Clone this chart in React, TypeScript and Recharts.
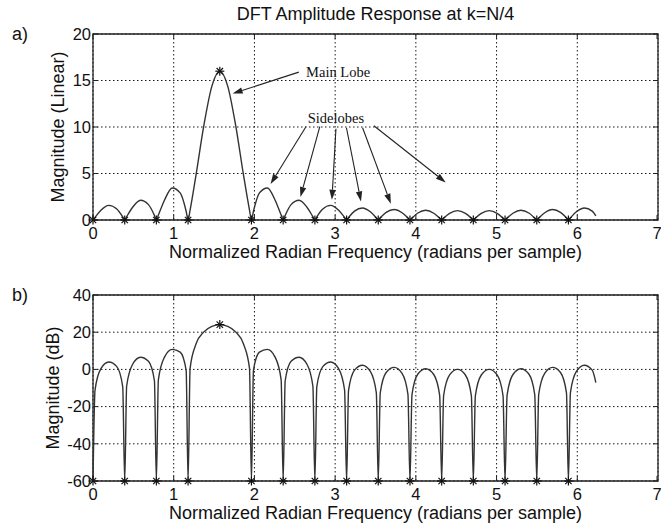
import React from 'react';
import {
  LineChart,
  Line,
  XAxis,
  YAxis,
  CartesianGrid,
  ReferenceArea,
  ReferenceLine,
  ReferenceDot,
  Label
} from 'recharts';

// frequency samples of the plotted curve (radians per sample)
const freq = [
  0.0, 0.025, 0.098, 0.196, 0.295, 0.368,
  0.393, 0.417, 0.491, 0.589, 0.687, 0.761,
  0.785, 0.81, 0.884, 0.982, 1.08, 1.154,
  1.178, 1.203, 1.276, 1.374, 1.473, 1.571, 1.669, 1.767, 1.865, 1.939,
  1.963, 1.988, 2.062, 2.16, 2.258, 2.331,
  2.356, 2.381, 2.454, 2.553, 2.651, 2.724,
  2.749, 2.773, 2.847, 2.945, 3.043, 3.117,
  3.142, 3.166, 3.24, 3.338, 3.436, 3.51,
  3.534, 3.559, 3.632, 3.731, 3.829, 3.902,
  3.927, 3.952, 4.025, 4.123, 4.222, 4.295,
  4.32, 4.344, 4.418, 4.516, 4.614, 4.688,
  4.712, 4.737, 4.811, 4.909, 5.007, 5.08,
  5.105, 5.13, 5.203, 5.301, 5.4, 5.473,
  5.498, 5.522, 5.596, 5.694, 5.792, 5.866,
  5.89, 5.915, 5.989, 6.087, 6.185, 6.23
];

const magLinear = [
  0, 0.279, 1.053, 1.576, 1.187, 0.345,
  0, 0.358, 1.375, 2.121, 1.654, 0.495,
  0, 0.526, 2.099, 3.445, 2.91, 0.942,
  0, 1.066, 4.82, 10.2, 14.4, 16, 14.4, 10.2, 4.82, 1.066,
  0, 0.942, 2.91, 3.445, 2.099, 0.526,
  0, 0.495, 1.654, 2.121, 1.375, 0.358,
  0, 0.345, 1.187, 1.576, 1.053, 0.279,
  0, 0.273, 0.954, 1.294, 0.88, 0.237,
  0, 0.233, 0.824, 1.134, 0.782, 0.212,
  0, 0.21, 0.751, 1.045, 0.729, 0.2,
  0, 0.199, 0.715, 1.005, 0.708, 0.195,
  0, 0.195, 0.708, 1.005, 0.715, 0.199,
  0, 0.2, 0.729, 1.045, 0.751, 0.21,
  0, 0.212, 0.782, 1.134, 0.824, 0.233,
  0, 0.237, 0.88, 1.294, 0.954, 0.44
];

const magDb = [
  -60, -11.1, 0.45, 3.95, 1.49, -9.25,
  -60, -8.93, 2.77, 6.53, 4.37, -6.1,
  -60, -5.59, 6.44, 10.74, 9.28, -0.52,
  -60, 0.56, 13.66, 20.17, 23.17, 24.08, 23.17, 20.17, 13.66, 0.56,
  -60, -0.52, 9.28, 10.74, 6.44, -5.59,
  -60, -6.1, 4.37, 6.53, 2.77, -8.93,
  -60, -9.25, 1.49, 3.95, 0.45, -11.08,
  -60, -11.29, -0.41, 2.24, -1.11, -12.52,
  -60, -12.66, -1.68, 1.09, -2.14, -13.46,
  -60, -13.55, -2.49, 0.38, -2.75, -14.0,
  -60, -14.05, -2.91, 0.04, -3.0, -14.19,
  -60, -14.19, -3.0, 0.04, -2.91, -14.05,
  -60, -14.0, -2.75, 0.38, -2.49, -13.55,
  -60, -13.46, -2.14, 1.09, -1.68, -12.66,
  -60, -12.52, -1.11, 2.24, -0.41, -7.1
];

// the 16 DFT bins (marked with asterisks)
const dftFreq = [
  0, 0.393, 0.785, 1.178, 1.571, 1.963, 2.356, 2.749,
  3.142, 3.534, 3.927, 4.32, 4.712, 5.105, 5.498, 5.89
];
const dftLinear = [0, 0, 0, 0, 16, 0, 0, 0, 0, 0, 0, 0, 0, 0, 0, 0];
const dftDb = [-60, -60, -60, -60, 24.08, -60, -60, -60, -60, -60, -60, -60, -60, -60, -60, -60];

const freqTicks = [0, 1, 2, 3, 4, 5, 6, 7];
const linearTicks = [0, 5, 10, 15, 20];
const dbTicks = [-60, -40, -20, 0, 20, 40];

const TITLE = 'DFT Amplitude Response at k=N/4';
const X_LABEL = 'Normalized Radian Frequency (radians per sample)';

const SANS = '"Liberation Sans", Arial, Helvetica, sans-serif';
const SERIF = '"Liberation Serif", "Times New Roman", serif';
const INK = '#111';

const CHART_W = 661;
const CHART_H = 269;
const MARGIN = { top: 34, right: 3, bottom: 19, left: 33 };
const X_AXIS_H = 30;
const Y_AXIS_W = 60;
const PLOT_W = CHART_W - MARGIN.left - MARGIN.right - Y_AXIS_W;
const PLOT_H = CHART_H - MARGIN.top - MARGIN.bottom - X_AXIS_H;
const TICK_IN = 5;

function Star(props: any) {
  const { cx, cy, key } = props;
  if (cx == null || cy == null) return null;
  const r = 4.5;
  const d = 3.2;
  return (
    <g key={key} stroke={INK} strokeWidth={1.2}>
      <line x1={cx - r} y1={cy} x2={cx + r} y2={cy} />
      <line x1={cx} y1={cy - r} x2={cx} y2={cy + r} />
      <line x1={cx - d} y1={cy - d} x2={cx + d} y2={cy + d} />
      <line x1={cx - d} y1={cy + d} x2={cx + d} y2={cy - d} />
    </g>
  );
}

function Arrow(props: any) {
  const { x1, y1, x2, y2 } = props;
  const a = Math.atan2(y2 - y1, x2 - x1);
  const len = 10;
  const half = 3.2;
  const bx = x2 - len * Math.cos(a);
  const by = y2 - len * Math.sin(a);
  const pts = [
    `${x2},${y2}`,
    `${bx - half * Math.sin(a)},${by + half * Math.cos(a)}`,
    `${bx + half * Math.sin(a)},${by - half * Math.cos(a)}`
  ].join(' ');
  return (
    <g>
      <line x1={x1} y1={y1} x2={bx} y2={by} stroke="#222" strokeWidth={1.1} />
      <polygon points={pts} fill="#222" />
    </g>
  );
}

function note(text: string) {
  return (p: any) => (
    <text
      x={p.cx}
      y={p.cy}
      dominantBaseline="central"
      fontFamily={SERIF}
      fontSize={14.5}
      fill={INK}
    >
      {text}
    </text>
  );
}

// tick label plus matlab-style inward tick marks on both opposite edges
function XTick(props: any) {
  const { x, y, payload } = props;
  const axisY = y - 7;
  const topY = axisY - PLOT_H;
  return (
    <g>
      <line x1={x} y1={axisY} x2={x} y2={axisY - TICK_IN} stroke="#222" />
      <line x1={x} y1={topY} x2={x} y2={topY + TICK_IN} stroke="#222" />
      <text x={x} y={y} dy="0.71em" textAnchor="middle" fontSize={16.5} fill={INK}>
        {payload.value}
      </text>
    </g>
  );
}

function YTick(props: any) {
  const { x, y, payload } = props;
  const axisX = x + 2;
  const rightX = axisX + PLOT_W;
  return (
    <g>
      <line x1={axisX} y1={y} x2={axisX + TICK_IN} y2={y} stroke="#222" />
      <line x1={rightX} y1={y} x2={rightX - TICK_IN} y2={y} stroke="#222" />
      <text x={x} y={y} dy="0.355em" textAnchor="end" fontSize={16.5} fill={INK}>
        {payload.value}
      </text>
    </g>
  );
}

// rotated y-axis title, placed from the axis viewBox
function yTitle(text: string, shift: number) {
  return (p: any) => {
    const vb = p.viewBox || { x: 33, y: 34, width: 60, height: 186 };
    const x = vb.x + vb.width - shift;
    const y = vb.y + vb.height / 2;
    return (
      <text
        x={x}
        y={y}
        transform={`rotate(-90 ${x} ${y})`}
        textAnchor="middle"
        fontFamily={SANS}
        fontSize={18}
        fill={INK}
      >
        {text}
      </text>
    );
  };
}

function xTitle(p: any) {
  const vb = p.viewBox || { x: 93, y: 220, width: 565, height: 30 };
  return (
    <text
      x={vb.x + vb.width / 2}
      y={vb.y + 25}
      dy="0.71em"
      textAnchor="middle"
      fontFamily={SANS}
      fontSize={18}
      fill={INK}
    >
      {X_LABEL}
    </text>
  );
}

interface PanelProps {
  values: number[];
  dftValues: number[];
  yTicks: number[];
  yLabel: string;
  yLabelShift: number;
  children?: React.ReactNode;
}

function Panel({ values, dftValues, yTicks, yLabel, yLabelShift, children }: PanelProps) {
  const curve = freq.map((x, i) => ({ x, y: values[i] }));
  const bins = dftFreq.map((x, i) => ({ x, y: dftValues[i] }));
  const yMin = yTicks[0];
  const yMax = yTicks[yTicks.length - 1];

  return (
    <LineChart width={CHART_W} height={CHART_H} margin={MARGIN} style={{ fontFamily: SANS }}>
      <CartesianGrid stroke="#1a1a1a" strokeWidth={1} strokeDasharray="1.5 2.5" />
      <XAxis
        type="number"
        dataKey="x"
        domain={[0, 7]}
        ticks={freqTicks}
        height={X_AXIS_H}
        axisLine={false}
        tickLine={false}
        tickSize={6}
        tickMargin={1}
        tick={XTick}
      >
        <Label content={xTitle} />
      </XAxis>
      <YAxis
        type="number"
        domain={[yMin, yMax]}
        ticks={yTicks}
        width={Y_AXIS_W}
        axisLine={false}
        tickLine={false}
        tickSize={2}
        tickMargin={0}
        tick={YTick}
      >
        <Label content={yTitle(yLabel, yLabelShift)} />
      </YAxis>
      <ReferenceArea
        x1={0}
        x2={7}
        y1={yMin}
        y2={yMax}
        fill="none"
        stroke="#222"
        strokeWidth={1.3}
        ifOverflow="visible"
      />
      <Line
        data={curve}
        dataKey="y"
        type="monotone"
        stroke="#333"
        strokeWidth={1.4}
        dot={false}
        activeDot={false}
        isAnimationActive={false}
      />
      <Line
        data={bins}
        dataKey="y"
        stroke="none"
        dot={Star}
        activeDot={false}
        isAnimationActive={false}
      />
      {children}
    </LineChart>
  );
}

export default function App() {
  return (
    <div
      style={{
        position: 'absolute',
        left: 0,
        top: 0,
        width: 661,
        height: 530,
        background: '#fff',
        overflow: 'hidden',
        fontFamily: SANS,
        color: INK
      }}
    >
      <div
        style={{
          position: 'absolute',
          left: 93,
          width: 565,
          top: 5,
          textAlign: 'center',
          fontSize: 18,
          lineHeight: '18px'
        }}
      >
        {TITLE}
      </div>
      <div style={{ position: 'absolute', left: 12, top: 25, fontSize: 18, lineHeight: '18px' }}>a)</div>
      <div style={{ position: 'absolute', left: 12, top: 286, fontSize: 18, lineHeight: '18px' }}>b)</div>

      <div style={{ position: 'absolute', left: 0, top: 0 }}>
        <Panel
          values={magLinear}
          dftValues={dftLinear}
          yTicks={linearTicks}
          yLabel="Magnitude (Linear)"
          yLabelShift={29}
        >
          <ReferenceLine segment={[{ x: 2.55, y: 15.9 }, { x: 1.73, y: 13.6 }]} shape={Arrow} ifOverflow="visible" />
          <ReferenceLine segment={[{ x: 2.64, y: 10.06 }, { x: 2.2, y: 3.87 }]} shape={Arrow} ifOverflow="visible" />
          <ReferenceLine segment={[{ x: 2.81, y: 10.03 }, { x: 2.57, y: 2.47 }]} shape={Arrow} ifOverflow="visible" />
          <ReferenceLine segment={[{ x: 3.01, y: 9.82 }, { x: 2.96, y: 2.18 }]} shape={Arrow} ifOverflow="visible" />
          <ReferenceLine segment={[{ x: 3.14, y: 9.92 }, { x: 3.32, y: 2.0 }]} shape={Arrow} ifOverflow="visible" />
          <ReferenceLine segment={[{ x: 3.34, y: 9.92 }, { x: 3.69, y: 1.75 }]} shape={Arrow} ifOverflow="visible" />
          <ReferenceLine segment={[{ x: 3.48, y: 10.14 }, { x: 4.37, y: 4.04 }]} shape={Arrow} ifOverflow="visible" />
          <ReferenceDot x={2.64} y={15.95} r={0} shape={note('Main Lobe')} ifOverflow="visible" />
          <ReferenceDot x={2.66} y={11.0} r={0} shape={note('Sidelobes')} ifOverflow="visible" />
        </Panel>
      </div>
      <div style={{ position: 'absolute', left: 0, top: 261 }}>
        <Panel
          values={magDb}
          dftValues={dftDb}
          yTicks={dbTicks}
          yLabel="Magnitude (dB)"
          yLabelShift={34}
        />
      </div>
    </div>
  );
}
